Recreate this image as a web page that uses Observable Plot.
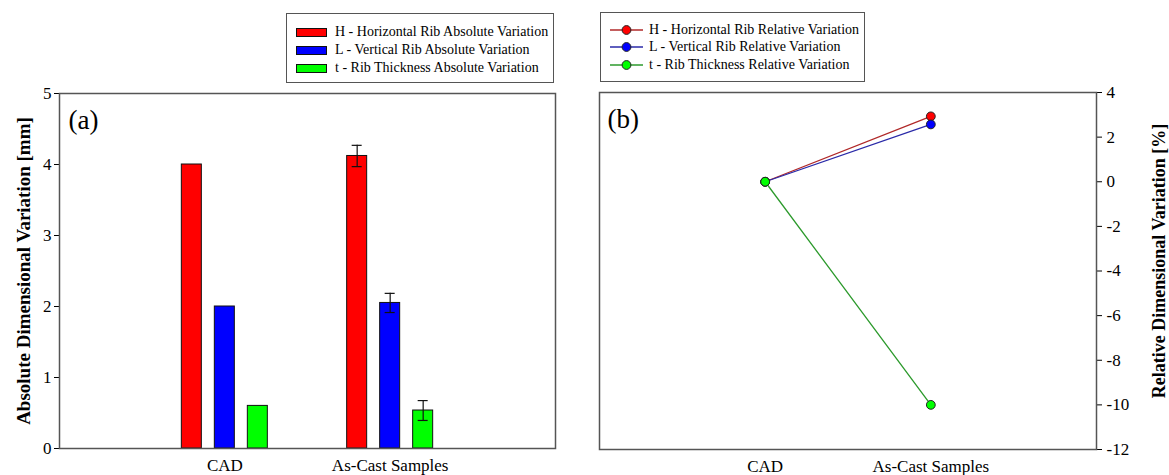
<!DOCTYPE html>
<html>
<head>
<meta charset="utf-8">
<script src="https://cdn.jsdelivr.net/npm/d3@7"></script>
<script src="https://cdn.jsdelivr.net/npm/@observablehq/plot@0.6"></script>
<style>
  body { margin: 0; background: #fff; }
  #wrap { position: relative; width: 1169px; height: 475px; overflow: hidden; font-family: "Liberation Serif", "Times New Roman", serif; }
  #wrap > svg { position: absolute; top: 0; }
  .legend { position: absolute; box-sizing: border-box; border: 1.5px solid #555; background: #fff; font-size: 14px; color: #000; }
  .legend .row { position: absolute; left: 0; height: 18px; display: flex; align-items: center; white-space: nowrap; }
  .legend .sw { display: inline-block; width: 31px; height: 9px; box-sizing: border-box; border: 1px solid #111; margin-left: 9px; margin-right: 8px; }
  .legend svg { display: block; margin-left: 9px; margin-right: 6px; }
</style>
</head>
<body>
<div id="wrap"></div>
<script>
// ---------- data ----------
const categories = ["CAD", "As-Cast Samples"];
const seriesKeys = ["H", "L", "t"];
const absNames = ["H - Horizontal Rib Absolute Variation", "L - Vertical Rib Absolute Variation", "t - Rib Thickness Absolute Variation"];
const relNames = ["H - Horizontal Rib Relative Variation", "L - Vertical Rib Relative Variation", "t - Rib Thickness Relative Variation"];
const absH = [4.0, 4.12];
const absL = [2.0, 2.05];
const absT = [0.6, 0.535];
const errH = [0, 0.15];
const errL = [0, 0.135];
const errT = [0, 0.14];
const relH = [0, 2.93];
const relL = [0, 2.57];
const relT = [0, -10.0];
const yTicksA = [0, 1, 2, 3, 4, 5];
const yTicksB = [-12, -10, -8, -6, -4, -2, 0, 2, 4];
const titleA = "Absolute Dimensional Variation [mm]";
const titleB = "Relative Dimensional Variation [%]";

// ---------- styles ----------
const barFill = ["#ff0000", "#0000ff", "#00ff00"];
const lineStroke = ["#b02828", "#2a2aa8", "#2c9a2c"];
const dotFill = ["#ff0000", "#0000ff", "#00ff00"];
const offsets = [-33, 0, 33];

const absVals = [absH, absL, absT];
const errVals = [errH, errL, errT];
const relVals = [relH, relL, relT];

const absRows = seriesKeys.map((s, i) => categories.map((c, j) => ({cat: c, series: s, value: absVals[i][j], err: errVals[i][j]})));
const relRows = seriesKeys.map((s, i) => categories.map((c, j) => ({cat: c, series: s, value: relVals[i][j]})));

const fontStyle = {fontFamily: "'Liberation Serif', 'Times New Roman', serif", fontSize: "17px", color: "#000", background: "transparent", overflow: "visible"};

// ---------- panel (a) ----------
const marksA = [];
seriesKeys.forEach((s, i) => {
  marksA.push(Plot.barY(absRows[i], {x: "cat", y: "value", fill: barFill[i], stroke: "#111", strokeWidth: 1, dx: offsets[i]}));
  const e = absRows[i].filter(d => d.err > 0);
  marksA.push(Plot.ruleX(e, {x: "cat", y1: d => d.value - d.err, y2: d => d.value + d.err, stroke: "#111", strokeWidth: 1.2, dx: offsets[i]}));
  marksA.push(Plot.tickY(e, {x: "cat", y: d => d.value + d.err, stroke: "#111", strokeWidth: 1.2, insetLeft: 5, insetRight: 5, dx: offsets[i]}));
  marksA.push(Plot.tickY(e, {x: "cat", y: d => d.value - d.err, stroke: "#111", strokeWidth: 1.2, insetLeft: 5, insetRight: 5, dx: offsets[i]}));
});
marksA.push(Plot.frame({stroke: "#555", strokeWidth: 1.5}));
marksA.push(Plot.text(["(a)"], {frameAnchor: "top-left", dx: 9, dy: 16, fontSize: 27, textAnchor: "start", lineAnchor: "top"}));
marksA.push(Plot.text([titleA], {frameAnchor: "left", rotate: -90, dx: -36, fontSize: 19, fontWeight: "bold", textAnchor: "middle", lineAnchor: "middle"}));

const plotA = Plot.plot({
  width: 580, height: 475,
  marginLeft: 59, marginRight: 25, marginTop: 93, marginBottom: 27,
  style: fontStyle,
  x: {domain: categories, paddingInner: 1 - 20 / 165.3, paddingOuter: 0.9395, round: false, tickSize: 0, tickPadding: 10, label: null},
  y: {domain: [0, 5], ticks: yTicksA, tickFormat: d => String(d), tickSize: 5, tickPadding: 3, label: null},
  marks: marksA
});
plotA.style.left = "0px";

// ---------- panel (b) ----------
const marksB = [];
seriesKeys.forEach((s, i) => {
  marksB.push(Plot.line(relRows[i], {x: "cat", y: "value", stroke: lineStroke[i], strokeWidth: 1.3}));
  marksB.push(Plot.dot(relRows[i], {x: "cat", y: "value", r: 4.4, fill: dotFill[i], stroke: "#222", strokeWidth: 1}));
});
marksB.push(Plot.frame({stroke: "#555", strokeWidth: 1.5}));
marksB.push(Plot.text(["(b)"], {frameAnchor: "top-left", dx: 8, dy: 16, fontSize: 27, textAnchor: "start", lineAnchor: "top"}));
marksB.push(Plot.text([titleB], {frameAnchor: "right", rotate: -90, dx: 63, dy: -10, fontSize: 18, fontWeight: "bold", textAnchor: "middle", lineAnchor: "middle"}));

const plotB = Plot.plot({
  width: 589, height: 475,
  marginLeft: 19, marginRight: 73, marginTop: 92, marginBottom: 26,
  style: fontStyle,
  x: {type: "point", domain: categories, padding: 1, round: false, tickSize: 0, tickPadding: 10, label: null},
  y: {domain: [-12, 4], ticks: yTicksB, tickFormat: d => String(d), axis: "right", tickSize: 5, tickPadding: 5, label: null},
  marks: marksB
});
plotB.style.left = "580px";

const wrap = document.getElementById("wrap");
wrap.appendChild(plotA);
wrap.appendChild(plotB);

// ---------- legends ----------
function legend(left, top, width, height, firstCenter, step, names, swatch) {
  const box = document.createElement("div");
  box.className = "legend";
  Object.assign(box.style, {left: left + "px", top: top + "px", width: width + "px", height: height + "px"});
  names.forEach((n, i) => {
    const row = document.createElement("div");
    row.className = "row";
    row.style.top = (firstCenter + i * step - 9) + "px";
    row.appendChild(swatch(i));
    const t = document.createElement("span");
    t.textContent = n;
    row.appendChild(t);
    box.appendChild(row);
  });
  wrap.appendChild(box);
}
legend(286, 13, 268, 70, 18, 18, absNames, i => {
  const s = document.createElement("span");
  s.className = "sw";
  s.style.background = barFill[i];
  return s;
});
legend(600, 12, 265, 70, 16.5, 17.5, relNames, i => {
  const ns = "http://www.w3.org/2000/svg";
  const svg = document.createElementNS(ns, "svg");
  svg.setAttribute("width", 33); svg.setAttribute("height", 12);
  const l = document.createElementNS(ns, "line");
  l.setAttribute("x1", 0); l.setAttribute("x2", 33); l.setAttribute("y1", 6); l.setAttribute("y2", 6);
  l.setAttribute("stroke", lineStroke[i]); l.setAttribute("stroke-width", 1.3);
  const c = document.createElementNS(ns, "circle");
  c.setAttribute("cx", 16.5); c.setAttribute("cy", 6); c.setAttribute("r", 4.4);
  c.setAttribute("fill", dotFill[i]); c.setAttribute("stroke", "#222");
  svg.appendChild(l); svg.appendChild(c);
  return svg;
});
</script>
</body>
</html>
